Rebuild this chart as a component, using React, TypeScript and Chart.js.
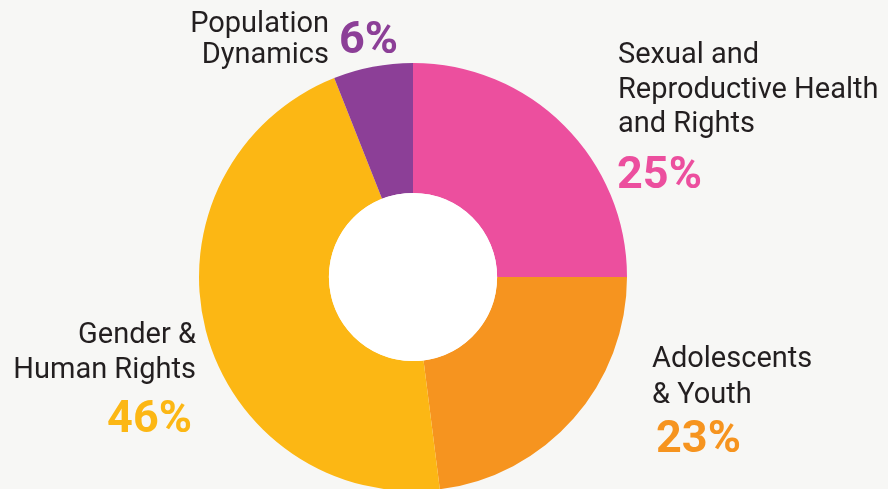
import React, { useEffect, useRef } from "react";
import { Chart, registerables } from "chart.js";

Chart.register(...registerables);

// ---- data ----
const categories = [
  "Sexual and Reproductive Health and Rights",
  "Adolescents & Youth",
  "Gender & Human Rights",
  "Population Dynamics",
];
const categoryLines = [
  ["Sexual and", "Reproductive Health", "and Rights"],
  ["Adolescents", "& Youth"],
  ["Gender &", "Human Rights"],
  ["Population", "Dynamics"],
];
const shares = [25, 23, 46, 6];
const colors = ["#EC4F9E", "#F6941F", "#FCB714", "#8C3F97"];

// ---- label layout (positions only) ----
const labelLayout = [
  { align: "left", x: 618, baselines: [63, 98, 132], pctX: 617, pctY: 188, pctAlign: "left" },
  { align: "left", x: 652, baselines: [367, 403], pctX: 656, pctY: 452, pctAlign: "left" },
  { align: "right", x: 196, baselines: [343, 378], pctX: 192, pctY: 432, pctAlign: "right" },
  { align: "right", x: 329, baselines: [32, 63], pctX: 339, pctY: 53, pctAlign: "left" },
];

const labelPlugin = {
  id: "sliceLabels",
  afterDatasetsDraw(chart: any) {
    const ctx = chart.ctx;
    const meta = chart.getDatasetMeta(0);
    const arc = meta.data[0];
    if (arc) {
      ctx.save();
      ctx.beginPath();
      ctx.arc(arc.x, arc.y, arc.innerRadius, 0, Math.PI * 2);
      ctx.fillStyle = "#ffffff";
      ctx.fill();
      ctx.restore();
    }
    ctx.save();
    ctx.textBaseline = "alphabetic";
    categoryLines.forEach((lines, i) => {
      const l = labelLayout[i];
      ctx.font = "400 29px Roboto";
      ctx.fillStyle = "#231f20";
      ctx.textAlign = l.align;
      lines.forEach((t, j) => ctx.fillText(t, l.x, l.baselines[j]));
      ctx.font = "700 45px Roboto";
      ctx.fillStyle = colors[i];
      ctx.textAlign = l.pctAlign;
      ctx.fillText(`${shares[i]}%`, l.pctX, l.pctY);
    });
    ctx.restore();
  },
};

export default function App() {
  const ref = useRef<HTMLCanvasElement | null>(null);
  useEffect(() => {
    if (!ref.current) return;
    const chart = new Chart(ref.current, {
      type: "doughnut",
      data: {
        labels: categories,
        datasets: [
          {
            data: shares,
            backgroundColor: colors,
            borderWidth: 0,
          },
        ],
      },
      options: {
        responsive: false,
        animation: false,
        cutout: "39.3%",
        layout: { padding: { left: 199, right: 261, top: 63, bottom: 0 } },
        plugins: {
          legend: { display: false },
          tooltip: { enabled: false },
        },
      },
      plugins: [labelPlugin],
    });
    return () => chart.destroy();
  }, []);
  return (
    <div
      style={{
        position: "fixed",
        left: 0,
        top: 0,
        width: 888,
        height: 489,
        overflow: "hidden",
        background: "#f7f7f5",
      }}
    >
      <canvas ref={ref} width={888} height={491} style={{ display: "block", width: 888, height: 491 }} />
    </div>
  );
}
